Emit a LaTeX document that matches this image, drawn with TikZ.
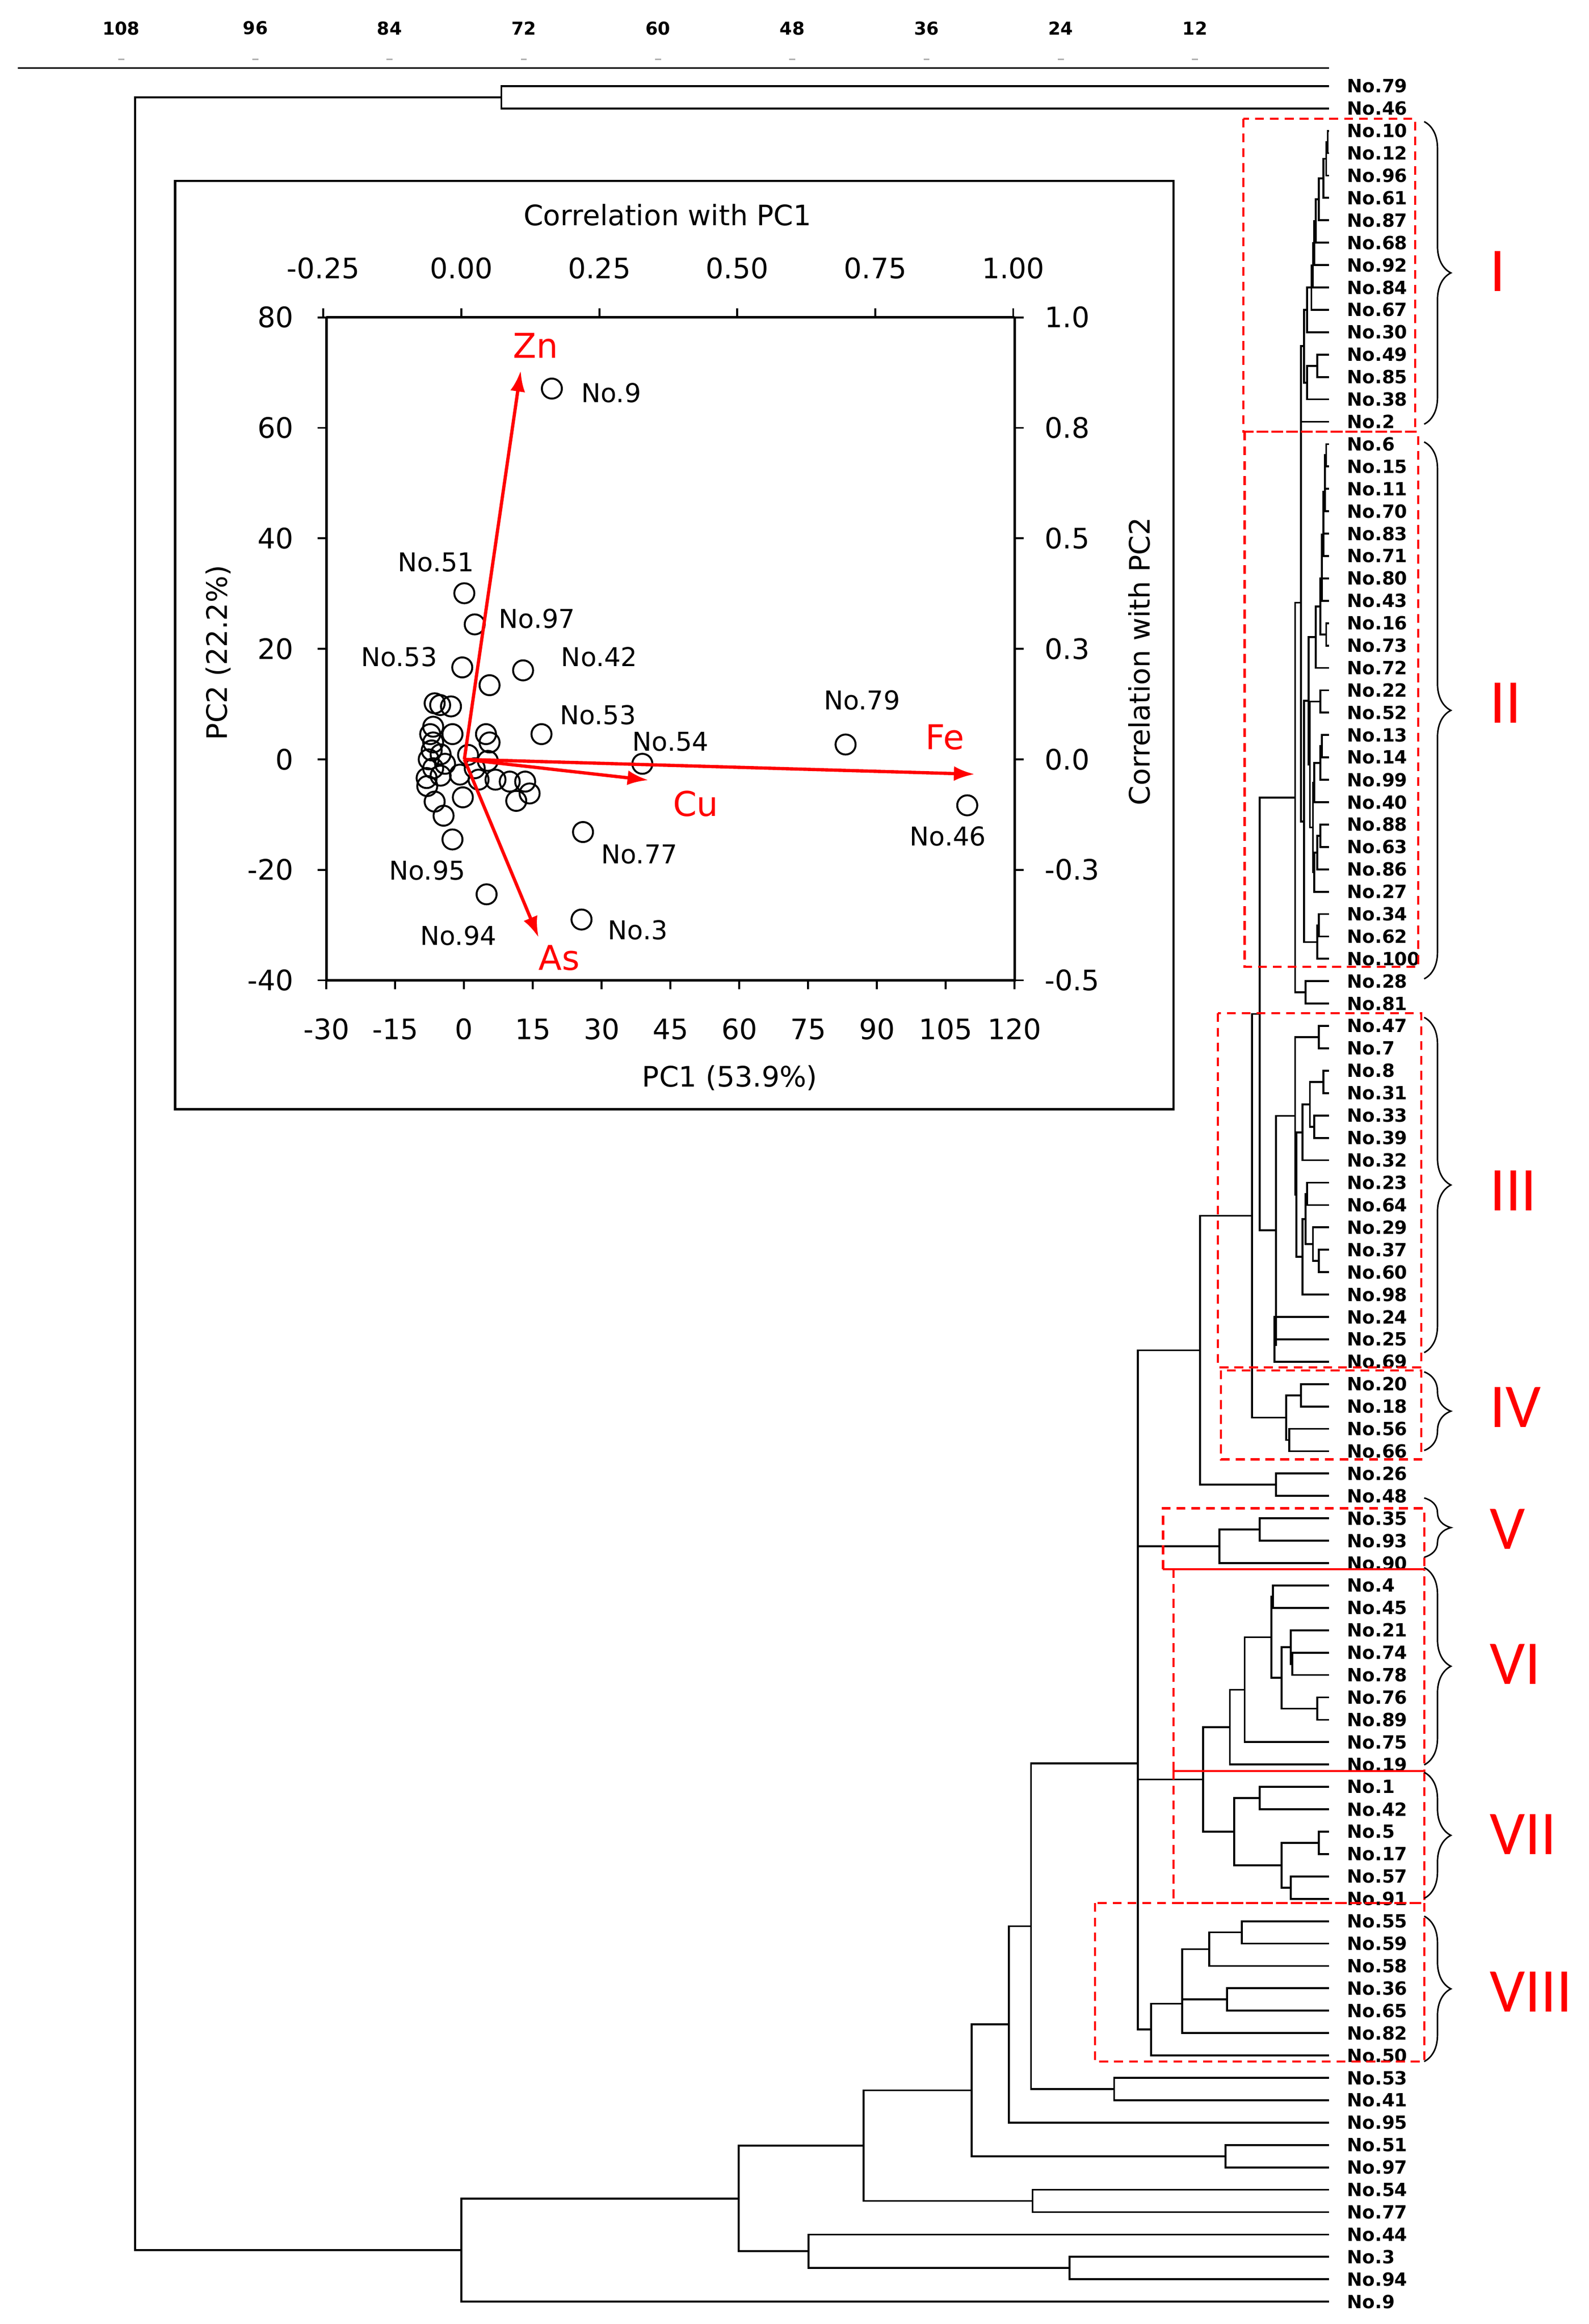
\documentclass[tikz,border=0pt]{standalone}
\usepackage{fontspec}
\setmainfont{DejaVu Sans}
\newfontfamily\calfont{Carlito}
\usetikzlibrary{calc,decorations.pathreplacing,arrows.meta}
\newcommand\mg[4]{\draw[dl] let \p1=(#2),\p2=(#3) in (#2) -- (#4pt,\y1) -- (#4pt,\y2) -- (#3);
 \path let \p1=(#2),\p2=(#3) in (#4pt,{0.5*\y1+0.5*\y2}) coordinate (#1);}
\begin{document}
\begin{tikzpicture}[x=1pt,y=-1pt,
 dl/.style={line width=1.3pt,black},
 leaf/.style={font=\bfseries\fontsize{12.3}{13}\selectfont,anchor=west,inner sep=0},
 box/.style={red,line width=1.4pt,dash pattern=on 6pt off 4pt},
 brc/.style={decorate,decoration={brace,amplitude=18pt},line width=1pt},
 rom/.style={red,font=\calfont\fontsize{42}{42}\selectfont,anchor=west,inner sep=0},
 tk/.style={font=\fontsize{19}{20}\selectfont,inner sep=0},
 pl/.style={font=\fontsize{17.5}{18}\selectfont,inner sep=0},
 pt/.style={circle,draw,line width=1.3pt,minimum size=13.5pt,inner sep=0},
 vec/.style={red,line width=2.2pt,-{Latex[length=14pt,width=10pt]}},
 vl/.style={red,font=\fontsize{23}{24}\selectfont,inner sep=0}]
\useasboundingbox (0,0) rectangle (1071,1567);
% top scale
\draw[line width=1pt] (12,46) -- (896,46);
\foreach \v in {108,96,84,72,60,48,36,24,12}{
 \node[font=\bfseries\fontsize{12}{12}\selectfont] at ({896-7.54*\v},19) {\v};
 \draw[gray!60,line width=0.8pt] ({896-7.54*\v-2},40) -- ({896-7.54*\v+2},40);}
% leaves
\foreach \n [count=\i from 0] in {79,46,10,12,96,61,87,68,92,84,67,30,49,85,38,2,6,15,11,70,83,71,80,43,16,73,72,22,52,13,14,99,40,88,63,86,27,34,62,100,28,81,47,7,8,31,33,39,32,23,64,29,37,60,98,24,25,69,20,18,56,66,26,48,35,93,90,4,45,21,74,78,76,89,75,19,1,42,5,17,57,91,55,59,58,36,65,82,50,53,41,95,51,97,54,77,44,3,94,9}{
 \coordinate (L\n) at (896,{58+15.09*\i});
 \node[leaf] (N\n) at (908,{58+15.09*\i}) {No.\n};}
% dendrogram
\mg{t1}{L79}{L46}{338}
\mg{c1}{L10}{L12}{895}
\mg{c2}{c1}{L96}{894}
\mg{c3}{c2}{L61}{892}
\mg{c4}{c3}{L87}{889}
\mg{c5}{c4}{L68}{887}
\mg{c6}{c5}{L92}{886}
\mg{c7}{c6}{L84}{885}
\mg{c8}{c7}{L67}{884}
\mg{c9}{c8}{L30}{881}
\mg{c10}{L49}{L85}{888}
\mg{c11}{c10}{L38}{881}
\mg{cI}{c9}{c11}{879}
\mg{cI2}{cI}{L2}{877}
\mg{d1}{L6}{L15}{894}
\mg{d2}{d1}{L11}{893}
\mg{d3}{d2}{L70}{893}
\mg{d4}{d3}{L83}{892}
\mg{d5}{d4}{L71}{892}
\mg{d6}{d5}{L80}{891}
\mg{d7}{d6}{L43}{891}
\mg{d8}{L16}{L73}{894}
\mg{d9}{d7}{d8}{890}
\mg{d10}{d9}{L72}{887}
\mg{e1}{L22}{L52}{890}
\mg{e2}{L13}{L14}{891}
\mg{e3}{e2}{L99}{890}
\mg{e4}{e3}{L40}{886}
\mg{e5}{L88}{L63}{890}
\mg{e6}{e5}{L86}{888}
\mg{e7}{e6}{L27}{886}
\mg{e8}{e4}{e7}{885}
\mg{e9}{e1}{e8}{883}
\mg{d11}{d10}{e9}{882}
\mg{f1}{L34}{L62}{889}
\mg{f2}{f1}{L100}{888}
\mg{dII}{d11}{f2}{879}
\mg{g1}{cI2}{dII}{877}
\mg{h1}{L28}{L81}{880}
\mg{n873}{g1}{h1}{873}
\mg{i0}{L47}{L7}{889}
\mg{i1}{L8}{L31}{892}
\mg{i2}{L33}{L39}{886}
\mg{i3}{i1}{i2}{883}
\mg{i4}{i3}{L32}{878}
\mg{j1}{L23}{L64}{881}
\mg{j2}{L37}{L60}{889}
\mg{j3}{L29}{j2}{885}
\mg{j4}{j1}{j3}{880}
\mg{j5}{j4}{L98}{878}
\mg{i5}{i4}{j5}{874}
\mg{i6}{i0}{i5}{873}
\mg{l1}{L24}{L25}{859}
\mg{l2}{l1}{L69}{859}
\mg{iii}{i6}{l2}{860}
\mg{m849}{n873}{iii}{849}
\mg{o1}{L20}{L18}{877}
\mg{o2}{L56}{L66}{869}
\mg{iv}{o1}{o2}{867}
\mg{q}{m849}{iv}{844}
\mg{r}{L26}{L48}{860}
\mg{p1}{q}{r}{809}
\mg{v1}{L35}{L93}{849}
\mg{vv}{v1}{L90}{822}
\mg{s1}{L4}{L45}{858}
\mg{s2}{L74}{L78}{871}
\mg{s3}{L21}{s2}{870}
\mg{s4}{L76}{L89}{888}
\mg{s5}{s3}{s4}{864}
\mg{s6}{s1}{s5}{857}
\mg{s7}{s6}{L75}{839}
\mg{vi}{s7}{L19}{829}
\mg{u1}{L1}{L42}{849}
\mg{u2}{L5}{L17}{889}
\mg{u3}{L57}{L91}{870}
\mg{u4}{u2}{u3}{864}
\mg{vii}{u1}{u4}{832}
\mg{w}{vi}{vii}{811}
\mg{x1}{L55}{L59}{837}
\mg{x2}{x1}{L58}{815}
\mg{x3}{L36}{L65}{827}
\mg{x4}{x2}{x3}{797}
\mg{x5}{x4}{L82}{797}
\mg{viii}{x5}{L50}{776}
\mg{b1}{p1}{vv}{767}
\mg{b2}{b1}{w}{767}
\mg{b3}{b2}{viii}{767}
\coordinate (bb) at (767,1189);
\mg{e0}{L53}{L41}{751}
\mg{FF}{bb}{e0}{695}
\mg{GG}{FF}{L95}{680}
\mg{DD}{L51}{L97}{826}
\mg{HH}{GG}{DD}{655}
\mg{CC}{L54}{L77}{696}
\mg{II}{HH}{CC}{582}
\mg{AA}{L3}{L94}{721}
\mg{BB}{L44}{AA}{545}
\mg{JJ}{II}{BB}{498}
\mg{KK}{JJ}{L9}{311}
\mg{root}{t1}{KK}{91}
% boxes
\draw[box] (838,80) rectangle (954,291);
\draw[box] (839,291) rectangle (956,652);
\draw[box] (821,683) rectangle (958,922);
\draw[box] (823,924) rectangle (958,984);
\draw[box] (784,1058) -- (784,1017) -- (960,1017) -- (960,1058);
\draw[red,line width=1.4pt] (784,1058) -- (960,1058);
\draw[box] (791,1058) -- (791,1194) -- (960,1194) -- (960,1058);
\draw[box] (791,1194) rectangle (960,1283);
\draw[box] (738,1283) rectangle (960,1390);
% braces
\draw[brc] (960,82) -- (960,286);
\draw[brc] (960,298) -- (960,660);
\draw[brc] (960,686) -- (960,912);
\draw[brc] (960,925) -- (960,978);
\draw[brc] (960,1010) -- (960,1050);
\draw[brc] (960,1057) -- (960,1190);
\draw[brc] (960,1195) -- (960,1280);
\draw[brc] (960,1292) -- (960,1390);
\node[rom] at (1004,183) {I};
\node[rom] at (1004,474) {II};
\node[rom] at (1004,803) {III};
\node[rom] at (1004,949) {IV};
\node[rom] at (1004,1031) {V};
\node[rom] at (1004,1122) {VI};
\node[rom] at (1004,1237) {VII};
\node[rom] at (1004,1343) {VIII};
% inset
\fill[white] (118,122) rectangle (791,748);
\draw[line width=1.6pt] (118,122) rectangle (791,748);
\draw[line width=1.6pt] (220,214) -- (220,661) -- (684,661) -- (684,214);
\draw[line width=1.6pt] (220,214) -- (684,214);
\foreach \v in {-30,-15,0,15,30,45,60,75,90,105,120}{
 \draw[line width=1.3pt] ({312.8+3.093*\v},661) -- ({312.8+3.093*\v},667);
 \node[tk] at ({312.8+3.093*\v},694) {\v};}
\foreach \v/\r in {80/1.0,60/0.8,40/0.5,20/0.3,0/0.0,-20/-0.3,-40/-0.5}{
 \draw[line width=1.3pt] (214,{512-3.725*\v}) -- (220,{512-3.725*\v});
 \draw[line width=1.3pt] (684,{512-3.725*\v}) -- (690,{512-3.725*\v});
 \node[tk,anchor=east] at (198,{512-3.725*\v}) {\v};
 \node[tk,anchor=west] at (704,{512-3.725*\v}) {\r};}
\foreach \v in {-0.25,0.00,0.25,0.50,0.75,1.00}{
 \draw[line width=1.3pt] ({311+372*\v},214) -- ({311+372*\v},208);
 \node[tk] at ({311+372*\v},181) {\v};}
\node[tk] at (450,145) {Correlation with PC1};
\node[tk] at (492,727) {PC1 (53.9\%)};
\node[tk,rotate=90] at (147,440) {PC2 (22.2\%)};
\node[tk,rotate=90] at (768,446) {Correlation with PC2};
\foreach \px/\py in {372/262,313/400,320/421,311.6/450,352.6/452,330/462,365/495,433/515,570/502,652/543,393/561,392/620,328/603,
296.7/475.4,304/476.3,293/474.2,292/490,305/495,327.6/495,330/500.6,292/500.6,291/506,297/508.6,315.5/509,328.8/513,292/518,297/523,287.6/524.6,310/522.3,322.6/525.7,334/525.7,343.6/527,354/527,357/535,348/540,312/537.6,293/540.5,299/550,305/566,289/512,288/530,300/515,320/518,290/495}
 \node[pt] at (\px,\py) {};
\coordinate (O) at (313,512);
\coordinate (tZn) at (351,250);
\coordinate (tAs) at (363,632);
\coordinate (tCu) at (437,526);
\coordinate (tFe) at (657,522);
\draw[vec] (O) -- (tZn);
\draw[vec] (O) -- (tAs);
\draw[vec] (O) -- (tCu);
\draw[vec] (O) -- (tFe);
\node[vl] at (361,233) {Zn};
\node[vl] at (377,646) {As};
\node[vl] at (469,542) {Cu};
\node[vl] at (637,497) {Fe};
\node[pl] at (412,265) {No.9};
\node[pl] at (294,379) {No.51};
\node[pl] at (362,417) {No.97};
\node[pl] at (269,443) {No.53};
\node[pl] at (404,443) {No.42};
\node[pl] at (403,482) {No.53};
\node[pl] at (452,500) {No.54};
\node[pl] at (581,472) {No.79};
\node[pl] at (639,564) {No.46};
\node[pl] at (431,576) {No.77};
\node[pl] at (288,587) {No.95};
\node[pl] at (309,631) {No.94};
\node[pl] at (430,627) {No.3};
\end{tikzpicture}
\end{document}
